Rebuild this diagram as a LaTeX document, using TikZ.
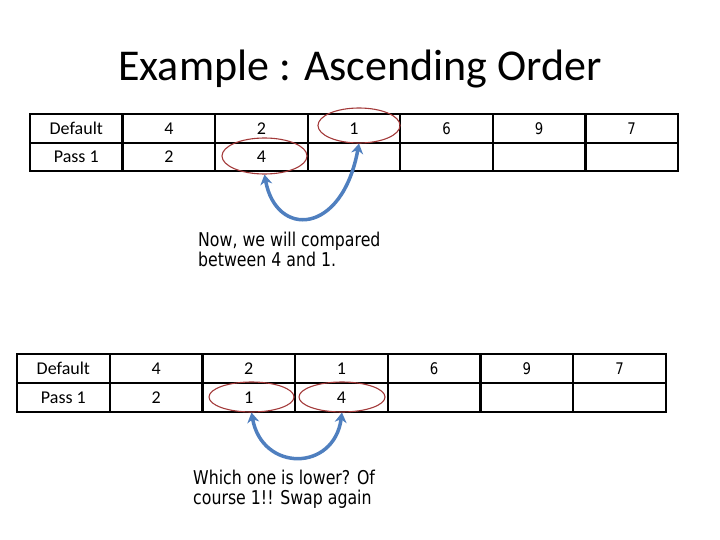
\documentclass[tikz,border=0pt]{standalone}
\usepackage{fontspec}
\setmainfont{Carlito}
\newfontfamily\tah[FakeStretch=0.83]{DejaVu Sans}
\usetikzlibrary{shapes.geometric,arrows.meta}
\definecolor{arrowblue}{HTML}{4F7FBF}
\definecolor{ovalred}{HTML}{A33A3A}
\begin{document}
\begin{tikzpicture}[x=1pt,y=-1pt,
  cell/.style={draw, line width=2.4pt, inner sep=0pt, minimum height=28.5pt, font=\fontsize{18}{20}\selectfont},
  pixcell/.style={cell, font=\tah\fontsize{16}{18}\selectfont},
  oval/.style={ellipse, draw=ovalred, line width=1.1pt, inner sep=0pt},
  swaparrow/.style={draw=arrowblue, line width=3.5pt, {Stealth[length=10pt,width=12pt]}-{Stealth[length=10pt,width=12pt]}},
  note/.style={font=\tah\fontsize{19}{20}\selectfont, align=left, inner sep=0pt, anchor=north west}]
\useasboundingbox (0,0) rectangle (720,540);
% title
\node[font=\fontsize{44}{50}\selectfont, anchor=base] (title) at (360,81) {Example : Ascending Order};
% top table
\def\wa{92.571}
\foreach \c/\t in {1/Default,2/4,3/2,4/1}
  \node[cell, minimum width=\wa pt] (ta1\c) at ({30+(\c-0.5)*\wa},128.5) {\t};
\foreach \c/\t in {5/6,6/9,7/7}
  \node[pixcell, minimum width=\wa pt] (ta1\c) at ({30+(\c-0.5)*\wa},128.5) {\t};
\foreach \c/\t in {1/Pass 1,2/2,3/4,4/{},5/{},6/{},7/{}}
  \node[cell, minimum width=\wa pt] (ta2\c) at ({30+(\c-0.5)*\wa},157) {\t};
% bottom table
\def\wb{92.714}
\foreach \c/\t in {1/Default,2/4,3/2,4/1}
  \node[cell, minimum width=\wb pt] (tb1\c) at ({17+(\c-0.5)*\wb},368.5) {\t};
\foreach \c/\t in {5/6,6/9,7/7}
  \node[pixcell, minimum width=\wb pt] (tb1\c) at ({17+(\c-0.5)*\wb},368.5) {\t};
\foreach \c/\t in {1/Pass 1,2/2,3/1,4/4,5/{},6/{},7/{}}
  \node[cell, minimum width=\wb pt] (tb2\c) at ({17+(\c-0.5)*\wb},397.5) {\t};
% ovals
\node[oval, minimum width=82pt, minimum height=35pt] (e1) at (359,125.5) {};
\node[oval, minimum width=85pt, minimum height=36pt] (e2) at (264.5,156) {};
\node[oval, minimum width=85pt, minimum height=30pt] (e3) at (251.5,397) {};
\node[oval, minimum width=86pt, minimum height=30pt] (e4) at (342,397) {};
% arrows
\draw[swaparrow] (e2.south) .. controls (276,238) and (342,236) .. (e1.south);
\draw[swaparrow] (e3.south) .. controls (262,472) and (334,472) .. (e4.south);
% notes
\node[note] (n1) at (198,232) {Now, we will compared\\between 4 and 1.};
\node[note] (n2) at (193,470) {Which one is lower? Of\\course 1!! Swap again};
\end{tikzpicture}
\end{document}
